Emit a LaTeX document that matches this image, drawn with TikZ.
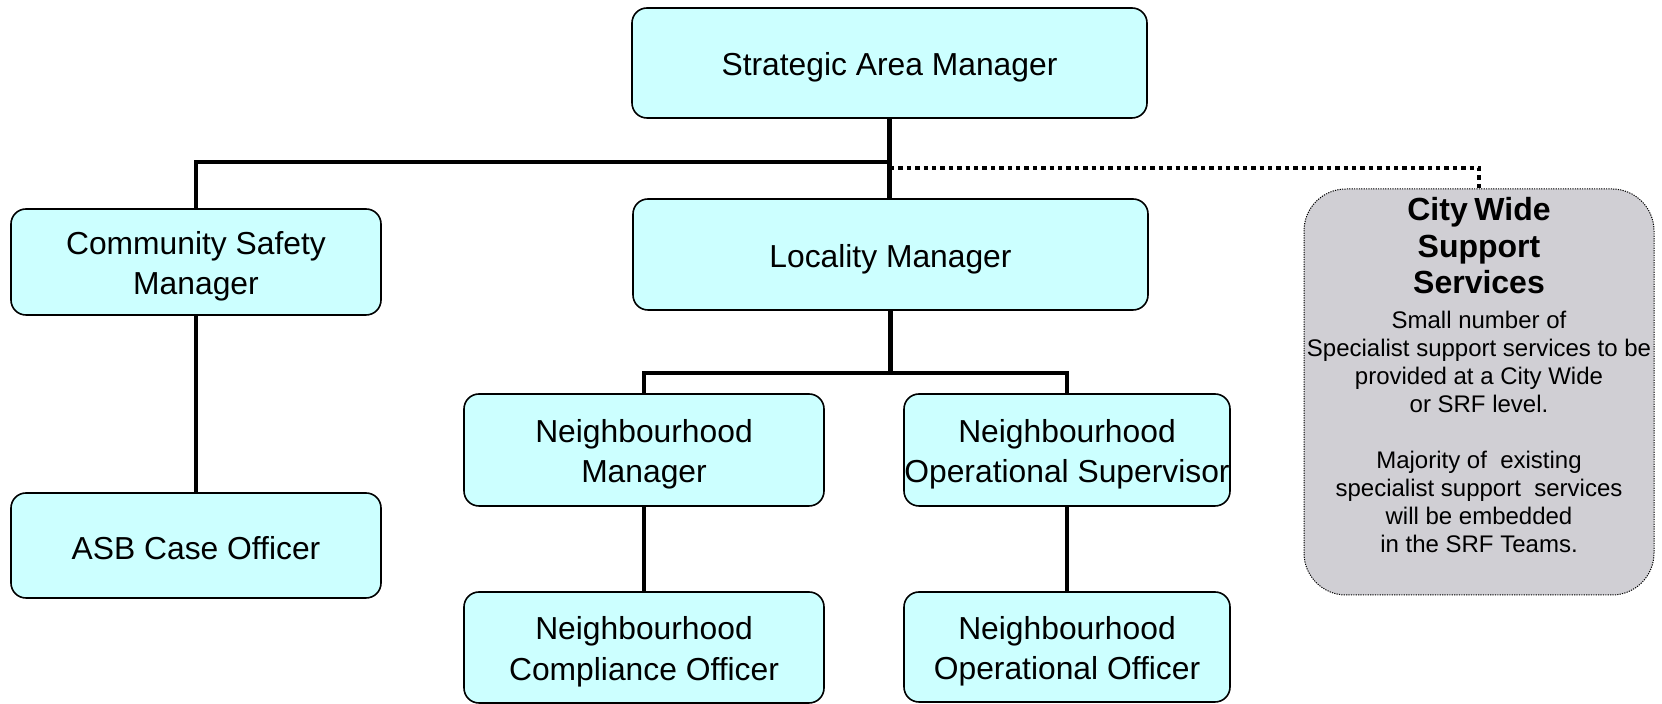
\documentclass[tikz,border=0pt]{standalone}
\usepackage{fontspec}
\setmainfont{Liberation Sans}
\definecolor{boxcyan}{HTML}{CCFFFF}
\definecolor{boxgrey}{HTML}{D0CFD4}
% line strut: gives every post line the same height and depth
\newcommand\postrut{\rule[-2pt]{0pt}{18pt}}
\begin{document}
\begin{tikzpicture}[x=0.5pt,y=-0.5pt,
  post/.style={draw=black, line width=0.8pt, fill=boxcyan, rounded corners=7.5pt,
    align=center, inner sep=0pt, font=\fontsize{15.9}{19}\selectfont},
  conn/.style={line width=2.3pt, line join=miter},
  dotconn/.style={line width=2.4pt, dash pattern=on 2.2pt off 2pt},
  greybox/.style={draw=black, line width=0.5pt, dash pattern=on 0.6pt off 0.6pt,
    fill=boxgrey, rounded corners=21pt, inner sep=0pt}]
\useasboundingbox (0,0) rectangle (1662,704);

% posts
\node[post, minimum width=257.5pt, minimum height=55pt] (sam) at (889.5,63) {\postrut Strategic Area Manager};
\node[post, minimum width=257.5pt, minimum height=55.5pt] (lm) at (890.5,254.5) {\postrut Locality Manager};
\node[post, minimum width=185pt, minimum height=53pt] (csm) at (196,262) {\postrut Community Safety\\\postrut Manager};
\node[post, minimum width=185pt, minimum height=52.5pt] (asb) at (196,545.5) {\postrut ASB Case Officer};
\node[post, minimum width=180pt, minimum height=56pt] (nm) at (644,450) {\postrut Neighbourhood\\\postrut Manager};
\node[post, minimum width=163pt, minimum height=56pt] (nos) at (1067,450) {\postrut Neighbourhood\\\postrut Operational Supervisor};
\node[post, minimum width=180pt, minimum height=55.5pt] (nco) at (644,647.5) {\postrut Neighbourhood\\\postrut Compliance Officer};
\node[post, minimum width=163pt, minimum height=55pt] (noo) at (1067,647) {\postrut Neighbourhood\\\postrut Operational Officer};

% city wide support box
\node[greybox, minimum width=175pt, minimum height=203pt] (cw) at (1479,392) {};
\node[anchor=north, align=center, inner sep=0pt, text width=176pt] (cwtext) at (1479,197) {%
  {\fontsize{16}{18.3}\selectfont\bfseries City Wide\\Support\\Services\par}
  \vspace{3.5pt}
  {\fontsize{12}{14}\selectfont Small number of\\Specialist support services to be\\provided at a City Wide\\or SRF level.\\[14pt]
  Majority of\ \ existing\\specialist support\ \ services\\will be embedded\\in the SRF Teams.\par}};

% reporting lines
\coordinate (bus) at (890,162);
\coordinate (dotbus) at (890,168);
\coordinate (lbus) at (890,373);
\draw[conn] (sam.south) -- (sam.south |- lm.north);
\draw[conn] (csm.north) |- (bus);
\draw[dotconn] (dotbus) -| (cw.north);
\draw[conn] (lm.south) -- (lm.south |- lbus);
\draw[conn] (nm.north) |- (lbus) -| (nos.north);
\draw[conn] (csm.south) -- (asb.north);
\draw[conn] (nm.south) -- (nco.north);
\draw[conn] (nos.south) -- (noo.north);
\end{tikzpicture}
\end{document}
